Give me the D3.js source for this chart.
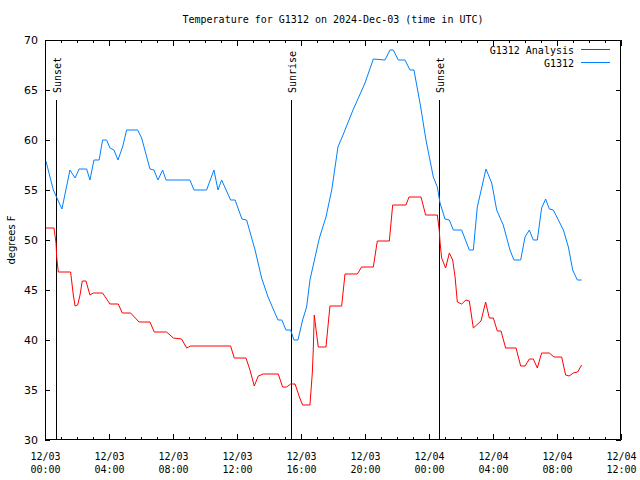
<!DOCTYPE html>
<html><head><meta charset="utf-8">
<script src="https://cdn.jsdelivr.net/npm/d3@7"></script>
<style>body{margin:0;background:#fff}svg{display:block}</style>
</head><body>
<svg id="c" width="640" height="480"></svg>
<script>
// hours since 2024-12-03 00:00 UTC
const analysisHours = [0.06,0.56,0.69,0.73,0.83,1.6,1.77,1.88,2.04,2.19,2.33,2.56,2.81,3.02,3.6,4.06,4.58,4.83,5.35,5.88,6.56,6.83,7.6,8.02,8.54,8.85,9.1,11.6,11.83,12.56,12.81,13.08,13.33,13.64,14.58,14.85,15.1,15.35,15.63,15.9,16.1,16.56,16.71,16.77,16.83,16.92,17.08,17.56,17.81,18.54,18.75,19.52,19.79,20.52,20.77,21.52,21.73,22.56,22.75,23.5,23.79,24.52,24.64,24.69,24.79,25.04,25.27,25.48,25.63,25.77,26.04,26.31,26.52,26.77,27.25,27.54,27.77,28.02,28.27,28.5,28.79,29.44,29.73,30,30.27,30.52,30.77,31.04,31.52,31.81,32.29,32.54,32.75,33.02,33.29,33.54];
const analysisTemps = [51.2,51.2,49.7,48.3,46.8,46.8,44.5,43.4,43.5,44.5,45.9,45.9,44.5,44.7,44.7,43.6,43.6,42.7,42.7,41.8,41.8,40.8,40.8,40.2,40.1,39.2,39.4,39.4,38.2,38.2,37,35.4,36.4,36.6,36.6,35.3,35.3,35.6,35.6,34.3,33.5,33.5,36.8,39.2,42.5,41.3,39.3,39.3,43.4,43.4,46.6,46.6,47.3,47.3,49.9,49.9,53.5,53.5,54.3,54.3,52.5,52.5,51,49.8,48.2,47.2,48.7,48,46.3,43.8,43.6,44,43.9,41.2,41.9,43.8,42.2,42.2,40.9,40.9,39.2,39.2,37.4,37.4,38.1,38.1,37.2,38.7,38.7,38.3,38.3,36.5,36.4,36.7,36.8,37.5];
const stationHours = [0.06,0.52,1.06,1.56,1.88,2.13,2.6,2.81,3.06,3.38,3.6,3.85,4.06,4.31,4.56,4.85,5.1,5.79,6.04,6.56,6.81,7.06,7.35,7.56,9.06,9.31,10.1,10.56,10.81,11.04,11.6,11.88,12.31,12.6,13.13,13.54,13.94,14.56,14.8,15.06,15.35,15.56,15.81,16.1,16.35,16.56,16.88,17.15,17.56,17.92,18.31,18.6,19.25,20,20.52,21.25,21.56,21.77,22.08,22.5,22.81,23.06,23.48,23.81,24.27,24.52,24.69,25,25.27,25.52,26.04,26.52,26.77,27.02,27.56,27.92,28.23,28.64,29.06,29.31,29.73,30,30.27,30.52,30.77,31.04,31.29,31.52,31.77,32.4,32.71,32.98,33.27,33.54];
const stationTemps = [57.9,55,53.1,57,56.2,57.1,57.1,56,58,58,60,60,59.2,59,58,59.3,61,61,60.2,57.1,57,56,57,56,56,55,55,57,55,56,54,54,52.1,52,49,46.2,44.3,42,42,41,41,40,40,42,43.3,46,48.3,50.2,52.3,55,59.3,60.4,63,65.7,68.1,68,69,69,68,68,67,67,63.3,60,56.3,55.3,53.7,52.1,52,51,51,49,49,53.3,57.1,55.7,53,51.5,49,48,48,50.3,51,50,50,53.2,54.1,53.1,53,51,49.3,47,46,46];
const sunLabels = ["Sunset","Sunrise","Sunset"];
const sunHours = [0.7,15.38,24.62];
const yTicks = [30,35,40,45,50,55,60,65,70];
const seriesNames = ["G1312 Analysis","G1312"];
const seriesColors = ["#ff0000","#0080ff"];
const titleText = "Temperature for G1312 on 2024-Dec-03 (time in UTC)";
const yLabel = "degrees F";

const base = Date.UTC(2024,11,3,0,0);
const H = 3600*1000;
const toDate = h => new Date(base + h*H);
const L=45,R=621,T=40,B=440;
const mono = "'DejaVu Sans Mono', monospace";
const sans = "'DejaVu Sans', sans-serif";

const svg = d3.select("#c");
const x = d3.scaleUtc().domain([toDate(0), toDate(36)]).range([L,R]);
const y = d3.scaleLinear().domain([30,70]).range([B,T]);

// title
svg.append("text").attr("x",333).attr("y",23).attr("text-anchor","middle")
  .attr("font-family",mono).attr("font-size",10).text(titleText);

// y label
svg.append("text").attr("transform","translate(15,240) rotate(-90)").attr("text-anchor","middle")
  .attr("font-family",sans).attr("font-size",10).text(yLabel);

const majorT = d3.range(0,37,4).map(toDate);
const minorT = d3.range(0,37,1).map(toDate);

// axes
const gB = svg.append("g").attr("transform",`translate(0,${B})`)
  .call(d3.axisBottom(x).tickValues(minorT).tickSize(-3).tickFormat(""));
const gBm = svg.append("g").attr("transform",`translate(0,${B})`)
  .call(d3.axisBottom(x).tickValues(majorT).tickSize(-6).tickPadding(10).tickFormat(""));
gBm.selectAll(".tick").append("text").attr("fill","#000").attr("font-family",mono).attr("font-size",10)
  .attr("text-anchor","middle")
  .each(function(d){
    const t=d3.select(this);
    t.append("tspan").attr("x",0).attr("y",20).text(d3.utcFormat("%m/%d")(d));
    t.append("tspan").attr("x",0).attr("y",33).text(d3.utcFormat("%H:%M")(d));
  });
const gT = svg.append("g").attr("transform",`translate(0,${T})`)
  .call(d3.axisTop(x).tickValues(minorT).tickSize(-3).tickFormat(""));
svg.append("g").attr("transform",`translate(0,${T})`)
  .call(d3.axisTop(x).tickValues(majorT).tickSize(-6).tickFormat(""));
const gL = svg.append("g").attr("transform",`translate(${L},0)`)
  .call(d3.axisLeft(y).tickValues(yTicks).tickSize(-5).tickPadding(7).tickFormat(d3.format("d")));
gL.selectAll("text").attr("font-family",sans).attr("font-size",11).attr("fill","#000");
svg.append("g").attr("transform",`translate(${R},0)`)
  .call(d3.axisRight(y).tickValues(yTicks).tickSize(-5).tickFormat(""));
svg.selectAll(".domain").remove();
svg.selectAll(".tick line").attr("stroke","#000").attr("shape-rendering","crispEdges");

svg.append("rect").attr("x",L+0.5).attr("y",T+0.5).attr("width",R-L-1).attr("height",B-T-1)
  .attr("fill","none").attr("stroke","#000").attr("shape-rendering","crispEdges");

// sun lines
sunHours.forEach((h,i)=>{
  const xx = Math.round(x(toDate(h)))+0.5;
  svg.append("line").attr("x1",xx).attr("x2",xx).attr("y1",100).attr("y2",B)
    .attr("stroke","#000").attr("stroke-width",1).attr("shape-rendering","crispEdges");
  svg.append("text").attr("transform",`translate(${xx+4},93) rotate(-90)`)
    .attr("font-family",mono).attr("font-size",10).text(sunLabels[i]);
});

const line = d3.line().x(d=>x(d[0])).y(d=>y(d[1]));
const series = [
  analysisHours.map((h,i)=>[toDate(h),analysisTemps[i]]),
  stationHours.map((h,i)=>[toDate(h),stationTemps[i]])
];
series.forEach((s,i)=>{
  svg.append("path").datum(s).attr("d",line).attr("fill","none")
    .attr("stroke",seriesColors[i]).attr("stroke-width",1);
});

// legend
seriesNames.forEach((n,i)=>{
  const yy = 50 + i*13;
  svg.append("text").attr("x",574).attr("y",yy+4).attr("text-anchor","end")
    .attr("font-family",mono).attr("font-size",10).text(n);
  svg.append("line").attr("x1",581).attr("x2",610).attr("y1",yy-0.5).attr("y2",yy-0.5)
    .attr("stroke",seriesColors[i]).attr("stroke-width",1);
});
</script>
</body></html>
